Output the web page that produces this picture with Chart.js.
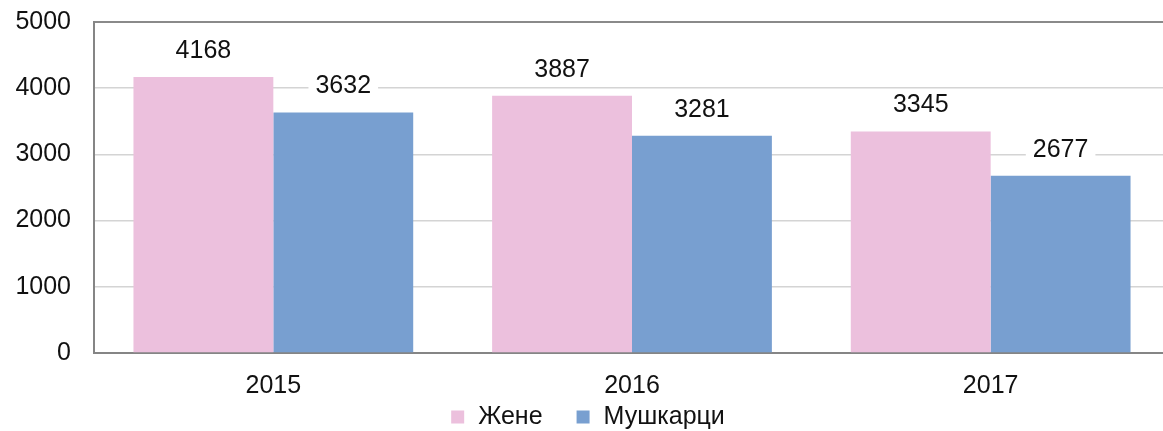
<!DOCTYPE html>
<html>
<head>
<meta charset="utf-8">
<script src="https://cdn.jsdelivr.net/npm/chart.js@4"></script>
<style>
  html, body { margin: 0; padding: 0; background: #fff; overflow: hidden; }
  #wrap { width: 1172px; height: 431px; }
</style>
</head>
<body>
<div id="wrap"><canvas id="chart"></canvas></div>
<script>
const years = ['2015', '2016', '2017'];
const zene = [4168, 3887, 3345];
const muskarci = [3632, 3281, 2677];
const seriesNames = ['Жене', 'Мушкарци'];
const colors = ['#ecc0dd', '#789fd0'];

const fontFam = '"Liberation Sans", Arial, sans-serif';

// labels over the bars, with a white box behind like the original
const valueLabels = {
  id: 'valueLabels',
  afterDatasetsDraw(chart) {
    const ctx = chart.ctx;
    ctx.save();
    ctx.font = '25px ' + fontFam;
    ctx.textAlign = 'center';
    ctx.textBaseline = 'middle';
    chart.data.datasets.forEach((ds, i) => {
      chart.getDatasetMeta(i).data.forEach((bar, j) => {
        const txt = String(ds.data[j]);
        const w = ctx.measureText(txt).width + 14;
        const y = bar.y - 26;
        ctx.fillStyle = '#fff';
        ctx.fillRect(bar.x - w / 2, y - 14, w, 28);
        ctx.fillStyle = '#111';
        ctx.fillText(txt, bar.x, y);
      });
    });
    ctx.restore();
  }
};

// bottom legend drawn by hand so spacing matches
const bottomLegend = {
  id: 'bottomLegend',
  afterDraw(chart) {
    const ctx = chart.ctx;
    ctx.save();
    ctx.font = '25px ' + fontFam;
    ctx.textBaseline = 'middle';
    const box = 13, gap = 14, between = 34;
    const widths = chart.data.datasets.map(ds => ctx.measureText(ds.label).width);
    let total = 0;
    widths.forEach((w, i) => { total += box + gap + w + (i ? between : 0); });
    let x = 588 - total / 2;
    const y = 417;
    chart.data.datasets.forEach((ds, i) => {
      ctx.fillStyle = ds.backgroundColor;
      ctx.fillRect(x, y - box / 2, box, box);
      ctx.fillStyle = '#111';
      ctx.fillText(ds.label, x + box + gap, y);
      x += box + gap + widths[i] + between;
    });
    ctx.restore();
  }
};

new Chart(document.getElementById('chart'), {
  type: 'bar',
  data: {
    labels: years,
    datasets: [{
      label: seriesNames[0],
      data: zene,
      backgroundColor: colors[0]
    }, {
      label: seriesNames[1],
      data: muskarci,
      backgroundColor: colors[1]
    }]
  },
  options: {
    responsive: true,
    maintainAspectRatio: false,
    animation: false,
    layout: { padding: { top: 22, left: 0, right: 2, bottom: 0 } },
    datasets: {
      bar: { categoryPercentage: 0.78, barPercentage: 1.0 }
    },
    scales: {
      x: {
        grid: { display: false },
        border: { color: '#858585', width: 2 },
        ticks: { color: '#111', font: { size: 25, family: fontFam }, padding: 10 },
        afterFit(scale) {
          scale.height = 78;
          scale.paddingLeft = 0;
          scale.paddingRight = 0;
        }
      },
      y: {
        min: 0,
        max: 5000,
        ticks: {
          stepSize: 1000,
          color: '#111',
          font: { size: 25, family: fontFam },
          padding: 23,
          callback: v => String(v)
        },
        grid: {
          color: ctx => ctx.tick && ctx.tick.value === 5000 ? '#8a8a8a' : '#d4d4d4',
          lineWidth: ctx => ctx.tick && ctx.tick.value === 5000 ? 2 : 1.5,
          drawTicks: false
        },
        border: { color: '#858585', width: 2 },
        afterFit(scale) {
          scale.width = 94;
          scale.paddingTop = 0;
          scale.paddingBottom = 0;
        }
      }
    },
    plugins: {
      legend: { display: false },
      tooltip: { enabled: false }
    }
  },
  plugins: [valueLabels, bottomLegend]
});
</script>
</body>
</html>
